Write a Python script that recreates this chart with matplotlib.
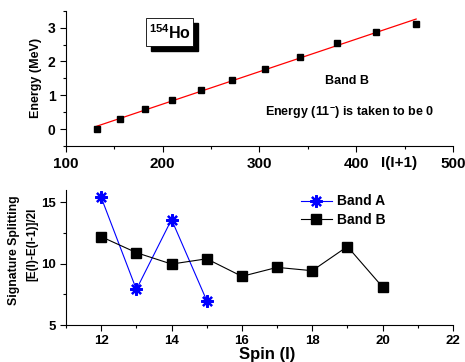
import matplotlib
matplotlib.use("Agg")
import matplotlib.pyplot as plt
import numpy as np
from matplotlib.ticker import MultipleLocator
from matplotlib.patches import Rectangle

plt.rcParams['font.family'] = ['Liberation Sans', 'DejaVu Sans']
plt.rcParams['font.weight'] = 'bold'
plt.rcParams['mathtext.fontset'] = 'custom'
plt.rcParams['mathtext.bf'] = 'Liberation Sans:bold'
plt.rcParams['mathtext.rm'] = 'Liberation Sans:bold'

# Band B energies vs I(I+1)
ii1 = [132, 156, 182, 210, 240, 272, 306, 342, 380, 420, 462]
energy = [0.0, 0.29, 0.58, 0.86, 1.16, 1.45, 1.78, 2.12, 2.56, 2.88, 3.12]

# signature splitting
spin_a = [12, 13, 14, 15]
split_a = [15.4, 7.9, 13.6, 7.0]
spin_b = [12, 13, 14, 15, 16, 17, 18, 19, 20]
split_b = [12.2, 10.9, 9.97, 10.4, 8.97, 9.7, 9.43, 11.4, 8.1]

fig = plt.figure(figsize=(4.65, 3.62), dpi=100)
ax1 = fig.add_axes([0.142, 0.597, 0.832, 0.373])
ax2 = fig.add_axes([0.142, 0.102, 0.832, 0.373])

for ax in (ax1, ax2):
    ax.spines['top'].set_visible(False)
    ax.spines['right'].set_visible(False)
    ax.tick_params(which='both', direction='out', width=0.8)
    ax.tick_params(which='major', length=4)
    ax.tick_params(which='minor', length=2.5)
ax1.tick_params(axis='x', labelsize=11, pad=4)
ax1.tick_params(axis='y', labelsize=10)
ax2.tick_params(axis='both', labelsize=9.5)

# top panel
coef = np.polyfit(ii1, energy, 1)
xf = np.array([ii1[0], ii1[-1]])
ax1.plot(xf, np.polyval(coef, xf), color='red', lw=0.9)
ax1.plot(ii1, energy, 's', color='black', ms=4.5)
ax1.set_xlim(100, 500)
ax1.set_ylim(-0.5, 3.5)
ax1.xaxis.set_major_locator(MultipleLocator(100))
ax1.xaxis.set_minor_locator(MultipleLocator(50))
ax1.yaxis.set_major_locator(MultipleLocator(1))
ax1.yaxis.set_minor_locator(MultipleLocator(0.5))
ax1.set_ylabel('Energy (MeV)', fontsize=9, fontweight='bold', labelpad=4)
ax1.text(444, -1.0, 'I(I+1)', fontsize=11, fontweight='bold', ha='center', va='center',
         clip_on=False)
ax1.text(0.727, 0.48, 'Band B', transform=ax1.transAxes, fontsize=9, fontweight='bold',
         ha='center', va='center')
ax1.text(0.733, 0.245, r'Energy (11$^{-}$) is taken to be 0', transform=ax1.transAxes,
         fontsize=9, fontweight='bold', ha='center', va='center')
# label box with shadow
ax1.add_patch(Rectangle((0.219, 0.702), 0.121, 0.207, transform=ax1.transAxes,
                        fc='black', ec='black', zorder=2, clip_on=False))
ax1.add_patch(Rectangle((0.207, 0.739), 0.121, 0.207, transform=ax1.transAxes,
                        fc='white', ec='black', lw=0.6, zorder=3, clip_on=False))
ax1.text(0.268, 0.842, r'$^{154}$Ho', transform=ax1.transAxes, fontsize=11.5,
         fontweight='bold', ha='center', va='center', zorder=4)

# bottom panel
ax2.plot(spin_a, split_a, color='blue', lw=0.8, marker=(8, 2, 0), ms=9, mew=1.6,
         label='Band A')
ax2.plot(spin_b, split_b, color='black', lw=0.8, marker='s', ms=7, label='Band B')
ax2.set_xlim(11, 22)
ax2.set_ylim(5, 16)
ax2.xaxis.set_major_locator(MultipleLocator(2))
ax2.xaxis.set_minor_locator(MultipleLocator(1))
ax2.yaxis.set_major_locator(MultipleLocator(5))
ax2.yaxis.set_minor_locator(MultipleLocator(2.5))
ax2.set_xlabel('Spin (I)', fontsize=12, fontweight='bold', labelpad=0)
ax2.xaxis.set_label_coords(0.52, -0.16)
ax2.set_ylabel('[E(I)-E(I-1)]/2I', fontsize=8.5, fontweight='bold')
ax2.yaxis.set_label_coords(-0.072, 0.60)
fig.text(0.030, 0.31, 'Signature Splitting', rotation=90, fontsize=8.8, fontweight='bold',
         ha='center', va='center')
ax2.legend(loc='upper left', bbox_to_anchor=(0.575, 1.06), frameon=False,
           handlelength=2.2, handletextpad=0.4, labelspacing=0.3,
           prop={'weight': 'bold', 'size': 10})

fig.savefig('out.png', dpi=100)
